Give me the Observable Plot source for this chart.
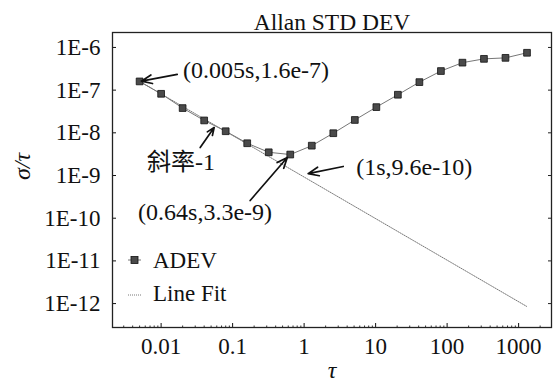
<!DOCTYPE html>
<html><head><meta charset="utf-8">
<script src="https://cdn.jsdelivr.net/npm/d3@7"></script>
<script src="https://cdn.jsdelivr.net/npm/@observablehq/plot@0.6"></script>
<style>body{margin:0;background:#fff}</style>
</head><body><div id="chart"></div>
<script>
// ADEV data (tau in s)
const tau = [0.005,0.01,0.02,0.04,0.08,0.16,0.32,0.64,1.28,2.56,5.12,10.24,20.48,40.96,81.92,163.84,327.68,655.36,1310.72];
const adev = [1.6e-7,8.2e-8,3.8e-8,1.95e-8,1.09e-8,5.7e-9,3.5e-9,3.1e-9,5.0e-9,9.8e-9,2.0e-8,4.0e-8,7.8e-8,1.54e-7,2.8e-7,4.4e-7,5.4e-7,5.7e-7,7.5e-7];
// Line fit endpoints
const fitTau = [0.005, 1310.72];
const fitVal = [1.6e-7, 8.5e-13];
// tick labels
const xTicks = [0.01, 0.1, 1, 10, 100, 1000];
const xTickLabels = ["0.01", "0.1", "1", "10", "100", "1000"];
const yTicks = [1e-6, 1e-7, 1e-8, 1e-9, 1e-10, 1e-11, 1e-12];
const yTickLabels = ["1E-6", "1E-7", "1E-8", "1E-9", "1E-10", "1E-11", "1E-12"];
// annotations
const annoText = ["(0.005s,1.6e-7)", "斜率-1", "(0.64s,3.3e-9)", "(1s,9.6e-10)"];
const annoTextTau = [0.0203, 0.00637, 0.00476, 5.35];
const annoTextVal = [2.89e-7, 2.02e-9, 1.36e-10, 1.54e-9];
const arrowTailTau = [0.0168, 0.0352, 0.176, 3.52];
const arrowTailVal = [2.33e-7, 4.53e-9, 2.6e-10, 1.63e-9];
const arrowHeadTau = [0.0053, 0.0552, 0.582, 1.14];
const arrowHeadVal = [1.62e-7, 1.33e-8, 2.64e-9, 1.11e-9];

const FONT = "'Liberation Serif', 'Times New Roman', 'Noto Sans CJK SC', serif";
const xDomain = [Math.pow(10, -2.68), Math.pow(10, 3.46)];
const yDomain = [Math.pow(10, -12.56), Math.pow(10, -5.65)];

const xLabelMap = new Map(xTicks.map((t, i) => [t, xTickLabels[i]]));
const yLabelMap = new Map(yTicks.map((t, i) => [t, yTickLabels[i]]));
const adevData = tau.map((t, i) => ({t, v: adev[i]}));
const fitData = fitTau.map((t, i) => ({t, v: fitVal[i]}));
const annos = annoText.map((s, i) => ({
  s, tx: annoTextTau[i], ty: annoTextVal[i],
  x1: arrowTailTau[i], y1: arrowTailVal[i], x2: arrowHeadTau[i], y2: arrowHeadVal[i]
}));
const minorX = [];
for (let e = -3; e <= 3; e++) for (let k = 2; k <= 9; k++) {
  const v = k * Math.pow(10, e);
  if (v > xDomain[0] && v < xDomain[1]) minorX.push(v);
}

function legendMark(index, scales, values, dims) {
  const g = d3.create("svg:g").attr("font-family", FONT).attr("font-size", 23).attr("text-anchor", "start");
  const x0 = dims.marginLeft;
  const y0 = dims.marginTop;
  // ADEV
  g.append("line").attr("x1", x0 + 16).attr("x2", x0 + 29).attr("y1", y0 + 228).attr("y2", y0 + 228)
    .attr("stroke", "#777").attr("stroke-width", 1);
  g.append("rect").attr("x", x0 + 19).attr("y", y0 + 224.5).attr("width", 7).attr("height", 7)
    .attr("fill", "#4a4a4a").attr("stroke", "#111").attr("stroke-width", 0.8);
  g.append("text").attr("x", x0 + 41).attr("y", y0 + 228).attr("dy", "0.35em").attr("fill", "#111").text("ADEV");
  // Line Fit
  g.append("line").attr("x1", x0 + 16).attr("x2", x0 + 29).attr("y1", y0 + 263).attr("y2", y0 + 263)
    .attr("stroke", "#555").attr("stroke-width", 0.8).attr("stroke-dasharray", "1,1");
  g.append("text").attr("x", x0 + 41).attr("y", y0 + 261).attr("dy", "0.35em").attr("fill", "#111").text("Line Fit");
  return g.node();
}

const chart = Plot.plot({
  width: 553,
  height: 389,
  marginLeft: 112,
  marginRight: 2,
  marginTop: 32,
  marginBottom: 62,
  style: {fontFamily: FONT, fontSize: "23px", background: "white", color: "#111"},
  x: {type: "log", domain: xDomain},
  y: {type: "log", domain: yDomain},
  marks: [
    // minor ticks (inward) along the bottom
    Plot.tickX(minorX, {x: d => d, insetTop: 293.5, stroke: "#333"}),
    // right-side inward ticks
    Plot.tickY(yTicks, {y: d => d, insetLeft: 436, stroke: "#222"}),
    Plot.axisX({ticks: xTicks, tickSize: -4, tickPadding: 14, tickFormat: d => xLabelMap.get(d), fontSize: 23, label: null}),
    Plot.axisY({ticks: yTicks, tickSize: -4, tickPadding: 16, tickFormat: d => yLabelMap.get(d), fontSize: 23, label: null}),
    Plot.text(["σ/τ"], {frameAnchor: "left", dx: -90, rotate: -90, fontSize: 24, fontStyle: "italic"}),
    Plot.text(["τ"], {frameAnchor: "bottom", dy: 50, fontSize: 24, fontStyle: "italic"}),
    Plot.text(["Allan STD DEV"], {frameAnchor: "top", dy: -19, fontSize: 23.5}),
    Plot.frame({stroke: "#222", strokeWidth: 1.3}),
    Plot.line(fitData, {x: "t", y: "v", stroke: "#555", strokeWidth: 0.8, strokeDasharray: "1,1.2"}),
    Plot.line(adevData, {x: "t", y: "v", stroke: "#777", strokeWidth: 1}),
    Plot.dot(adevData, {x: "t", y: "v", symbol: "square", r: 3.8, fill: "#4a4a4a", stroke: "#111", strokeWidth: 0.8}),
    Plot.arrow(annos, {x1: "x1", y1: "y1", x2: "x2", y2: "y2", stroke: "#111", strokeWidth: 1.7, headLength: 10, headAngle: 45}),
    Plot.text(annos, {x: "tx", y: "ty", text: "s", textAnchor: "start", fontSize: 24, fill: "#111"}),
    legendMark
  ]
});
document.getElementById("chart").appendChild(chart);
</script>
</body></html>
